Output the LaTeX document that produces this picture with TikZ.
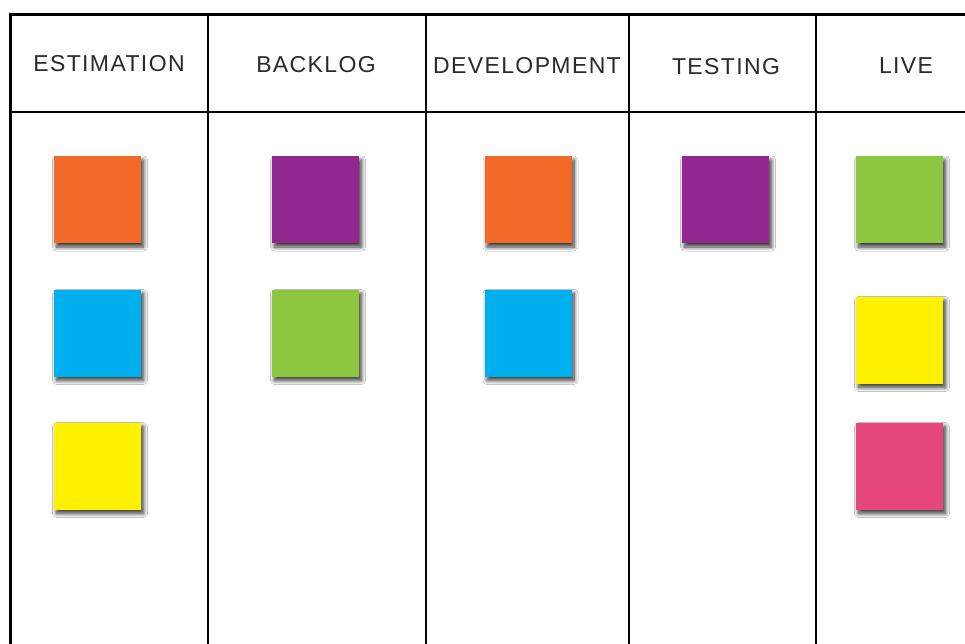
\documentclass[tikz,border=0pt]{standalone}
\usepackage{fontspec}
\setmainfont{Liberation Sans}
\usetikzlibrary{shadows.blur}
\definecolor{noteorange}{HTML}{F26A28}
\definecolor{noteblue}{HTML}{00B0EE}
\definecolor{noteyellow}{HTML}{FFF200}
\definecolor{notepurple}{HTML}{92278F}
\definecolor{notegreen}{HTML}{8DC63F}
\definecolor{notepink}{HTML}{E5477A}
\definecolor{inkgray}{HTML}{2A2A2A}
\tikzset{
  frame/.style={line width=3.5pt, black},
  divider/.style={line width=2pt, black},
  heading/.style={font=\fontsize{23}{26}\selectfont\addfontfeatures{LetterSpace=6}, text=inkgray, inner sep=0pt},
  note/.style={fill=#1, draw=none, minimum width=87pt, minimum height=87pt, inner sep=0pt,
    blur shadow={shadow xshift=2.5pt, shadow yshift=-4pt, shadow blur radius=4pt,
      shadow blur steps=12, shadow opacity=80}},
}
\begin{document}
\begin{tikzpicture}[x=1pt, y=-1pt]
\useasboundingbox[fill=white] (0,0) rectangle (965,644);
% board lines
\draw[frame] (10.5,644) -- (10.5,14.5) -- (965,14.5);
\draw[divider] (10,112) -- (965,112);
\foreach \xx in {208,426,629,816}
  \draw[divider] (\xx,14) -- (\xx,644);
% column headings
\node[heading] (hEst) at (109,64) {ESTIMATION};
\node[heading] (hBack) at (316,65) {BACKLOG};
\node[heading] (hDev) at (527,66) {DEVELOPMENT};
\node[heading] (hTest) at (726,67) {TESTING};
\node[heading] (hLive) at (906,66) {LIVE};
% sticky notes
\node[note=noteorange] (e1) at (97.5,199.5) {};
\node[note=noteblue]   (e2) at (97.5,333) {};
\node[note=noteyellow] (e3) at (97.5,466) {};
\node[note=notepurple] (b1) at (315.5,199.5) {};
\node[note=notegreen]  (b2) at (315.5,333) {};
\node[note=noteorange] (d1) at (528,199.5) {};
\node[note=noteblue]   (d2) at (528,333) {};
\node[note=notepurple] (t1) at (725.5,199.5) {};
\node[note=notegreen]  (l1) at (899.5,199.5) {};
\node[note=noteyellow] (l2) at (899.5,340) {};
\node[note=notepink]   (l3) at (899.5,466) {};
\end{tikzpicture}
\end{document}
